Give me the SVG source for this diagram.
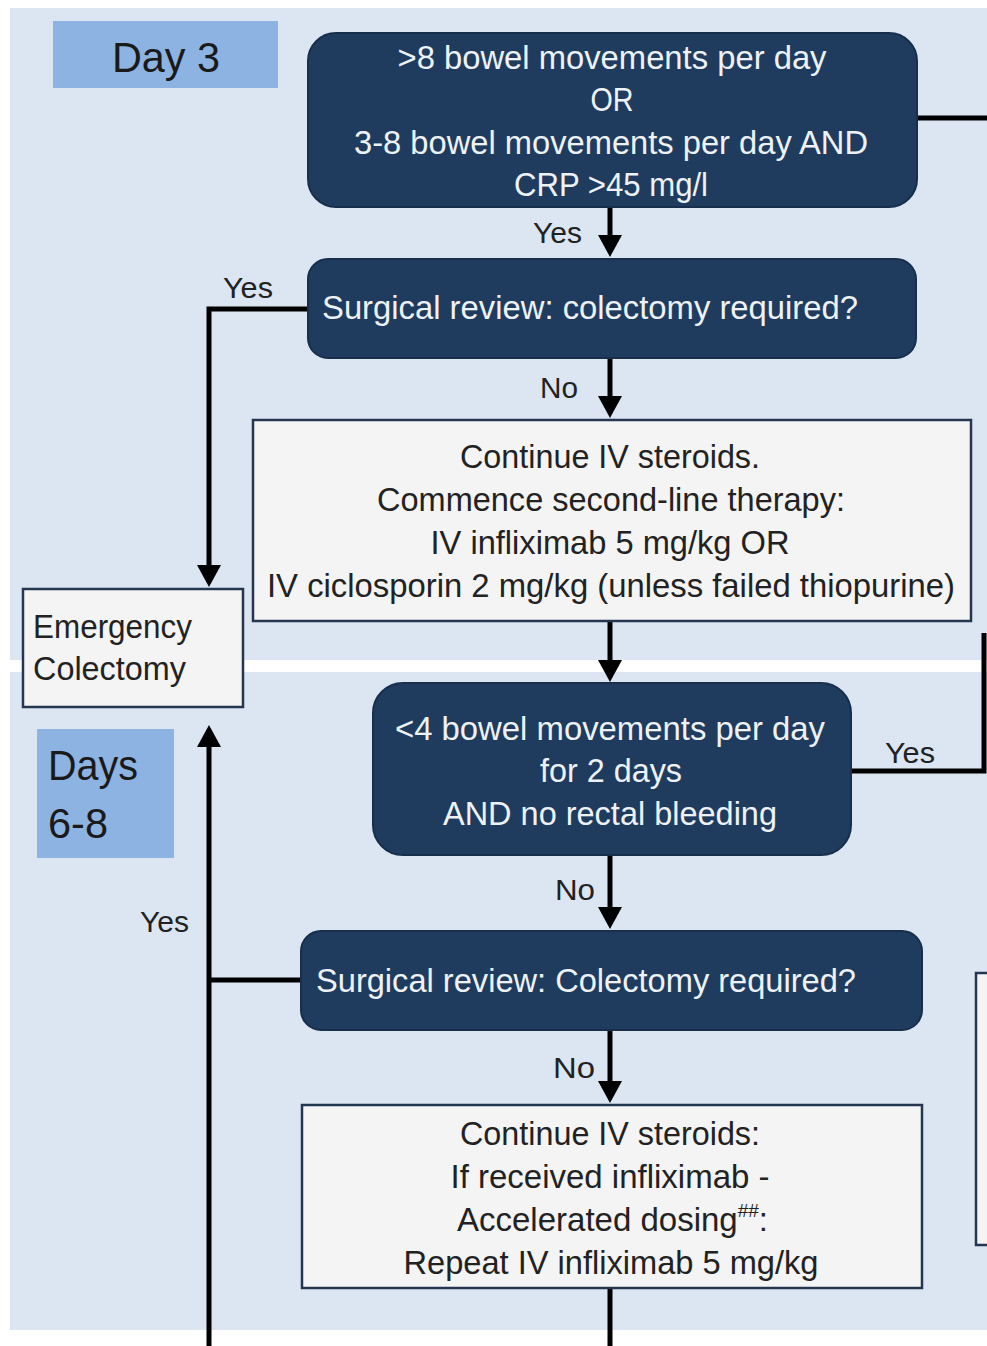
<svg xmlns="http://www.w3.org/2000/svg" width="987" height="1346" viewBox="0 0 987 1346">
<style>
  .panel{fill:#dce6f2}
  .tag{fill:#8db3e2}
  .dark{fill:#1f3c5f;stroke:#172f4c;stroke-width:2}
  .light{fill:#f4f4f4;stroke:#243650;stroke-width:2.5}
  text{font-family:"Liberation Sans",Arial,sans-serif}
  .tw{fill:#eef2f7;font-size:33px}
  .tb{fill:#222;font-size:33px}
  .tag-t{fill:#1a1a1a;font-size:42px}
  .lbl{fill:#222;font-size:30px}
  .c{text-anchor:middle}
  .conn{fill:none;stroke:#000;stroke-width:5}
</style>
<defs>
  <marker id="ah" viewBox="0 0 22 24" refX="12" refY="12" markerWidth="22" markerHeight="24" markerUnits="userSpaceOnUse" orient="auto">
    <path d="M0,0 L22,12 L0,24 z" fill="#000"/>
  </marker>
</defs>
<rect width="987" height="1346" fill="#ffffff"/>
<rect class="panel" x="10" y="8" width="977" height="652"/>
<rect class="panel" x="10" y="672" width="977" height="658"/>

<g id="day3">
  <rect class="tag" x="53" y="21" width="225" height="67"/>
  <text class="tag-t" x="112" y="72" textLength="108" lengthAdjust="spacingAndGlyphs">Day 3</text>
</g>
<g id="days68">
  <rect class="tag" x="37" y="729" width="137" height="129"/>
  <text class="tag-t" x="48" y="780" textLength="90" lengthAdjust="spacingAndGlyphs">Days</text>
  <text class="tag-t" x="48" y="838" textLength="60" lengthAdjust="spacingAndGlyphs">6-8</text>
</g>

<g id="connectors">
  <path class="conn" d="M610,207 L610,247" marker-end="url(#ah)"/>
  <path class="conn" d="M610,358 L610,408" marker-end="url(#ah)"/>
  <path class="conn" d="M610,622 L610,672" marker-end="url(#ah)"/>
  <path class="conn" d="M610,856 L610,919" marker-end="url(#ah)"/>
  <path class="conn" d="M610,1030 L610,1093" marker-end="url(#ah)"/>
  <path class="conn" d="M610,1288 L610,1346"/>
  <path class="conn" d="M308,309 L209,309 L209,577" marker-end="url(#ah)"/>
  <path class="conn" d="M209,1346 L209,735" marker-end="url(#ah)"/>
  <path class="conn" d="M301,980 L209,980"/>
  <path class="conn" d="M850,771 L984,771 L984,633"/>
  <path class="conn" d="M917,118 L987,118"/>
  <text class="lbl" x="533" y="243" textLength="49" lengthAdjust="spacingAndGlyphs">Yes</text>
  <text class="lbl" x="540" y="398" textLength="38" lengthAdjust="spacingAndGlyphs">No</text>
  <text class="lbl" x="223" y="298" textLength="50" lengthAdjust="spacingAndGlyphs">Yes</text>
  <text class="lbl" x="555" y="900" textLength="40" lengthAdjust="spacingAndGlyphs">No</text>
  <text class="lbl" x="885" y="763" textLength="50" lengthAdjust="spacingAndGlyphs">Yes</text>
  <text class="lbl" x="140" y="932" textLength="49" lengthAdjust="spacingAndGlyphs">Yes</text>
  <text class="lbl" x="553" y="1078" textLength="42" lengthAdjust="spacingAndGlyphs">No</text>
</g>

<g id="n1">
  <rect class="dark" x="308" y="33" width="609" height="174" rx="28"/>
  <text class="tw c" x="612" y="69" textLength="429" lengthAdjust="spacingAndGlyphs">&gt;8 bowel movements per day</text>
  <text class="tw c" x="612" y="111" textLength="43" lengthAdjust="spacingAndGlyphs">OR</text>
  <text class="tw c" x="611" y="154" textLength="514" lengthAdjust="spacingAndGlyphs">3-8 bowel movements per day AND</text>
  <text class="tw c" x="611" y="196" textLength="194" lengthAdjust="spacingAndGlyphs">CRP &gt;45 mg/l</text>
</g>
<g id="n2">
  <rect class="dark" x="308" y="259" width="608" height="99" rx="20"/>
  <text class="tw" x="322" y="319" textLength="536" lengthAdjust="spacingAndGlyphs">Surgical review: colectomy required?</text>
</g>
<g id="n3">
  <rect class="light" x="253" y="420" width="718" height="201"/>
  <text class="tb c" x="610" y="468" textLength="300" lengthAdjust="spacingAndGlyphs">Continue IV steroids.</text>
  <text class="tb c" x="611" y="511" textLength="468" lengthAdjust="spacingAndGlyphs">Commence second-line therapy:</text>
  <text class="tb c" x="610" y="554" textLength="359" lengthAdjust="spacingAndGlyphs">IV infliximab 5 mg/kg OR</text>
  <text class="tb c" x="611" y="597" textLength="688" lengthAdjust="spacingAndGlyphs">IV ciclosporin 2 mg/kg (unless failed thiopurine)</text>
</g>
<g id="emergency">
  <rect class="light" x="23" y="589" width="220" height="118"/>
  <text class="tb" x="33" y="638" textLength="159" lengthAdjust="spacingAndGlyphs">Emergency</text>
  <text class="tb" x="33" y="680" textLength="153" lengthAdjust="spacingAndGlyphs">Colectomy</text>
</g>
<g id="n4">
  <rect class="dark" x="373" y="683" width="478" height="172" rx="30"/>
  <text class="tw c" x="610" y="740" textLength="430" lengthAdjust="spacingAndGlyphs">&lt;4 bowel movements per day</text>
  <text class="tw c" x="611" y="782" textLength="142" lengthAdjust="spacingAndGlyphs">for 2 days</text>
  <text class="tw c" x="610" y="825" textLength="334" lengthAdjust="spacingAndGlyphs">AND no rectal bleeding</text>
</g>
<g id="n5">
  <rect class="dark" x="301" y="931" width="621" height="99" rx="20"/>
  <text class="tw" x="316" y="992" textLength="540" lengthAdjust="spacingAndGlyphs">Surgical review: Colectomy required?</text>
</g>
<g id="n6">
  <rect class="light" x="302" y="1105" width="620" height="183"/>
  <text class="tb c" x="610" y="1145" textLength="300" lengthAdjust="spacingAndGlyphs">Continue IV steroids:</text>
  <text class="tb c" x="610" y="1188" textLength="319" lengthAdjust="spacingAndGlyphs">If received infliximab -</text>
  <text class="tb" x="457" y="1231">Accelerated dosing<tspan font-size="19" dy="-14">##</tspan><tspan dy="14">:</tspan></text>
  <text class="tb c" x="611" y="1274" textLength="415" lengthAdjust="spacingAndGlyphs">Repeat IV infliximab 5 mg/kg</text>
</g>
<g id="partial-right">
  <rect class="light" x="976" y="973" width="20" height="272"/>
</g>
</svg>
